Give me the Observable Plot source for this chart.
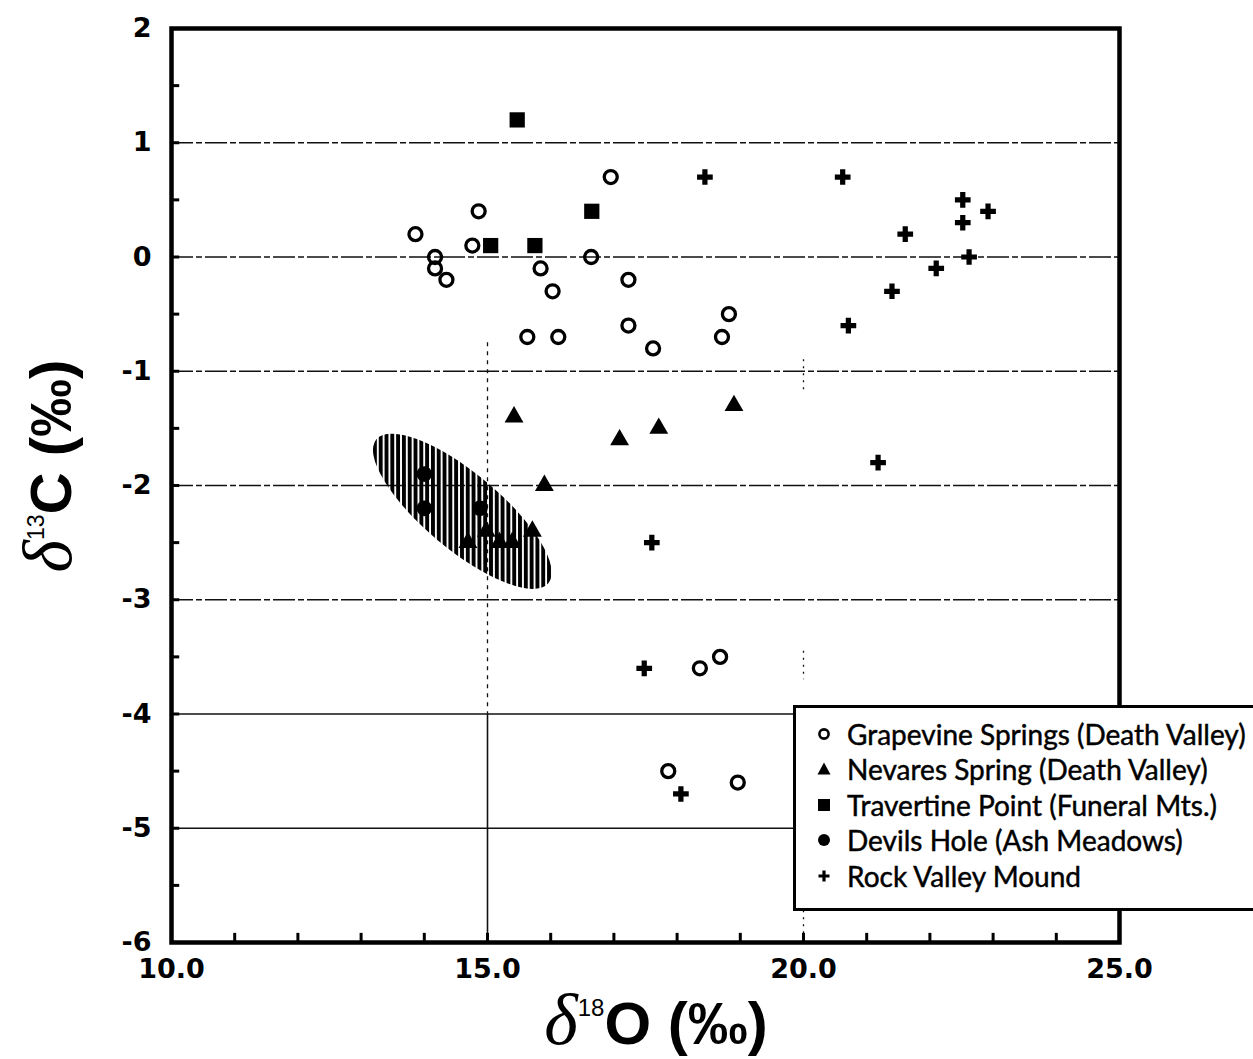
<!DOCTYPE html>
<html>
<head>
<meta charset="utf-8">
<script src="https://cdn.jsdelivr.net/npm/d3@7"></script>
<script src="https://cdn.jsdelivr.net/npm/@observablehq/plot@0.6"></script>
<style>
  html, body { margin: 0; padding: 0; background: #fff; overflow: hidden; }
  #wrap { position: relative; width: 1253px; height: 1059px; overflow: hidden; }
  #wrap svg { position: absolute; left: 0; top: 0; }
  .title { position: absolute; white-space: nowrap; color: #000;
           font-family: "Liberation Sans", Arial, sans-serif; font-weight: bold; line-height: 1; }
  .title .delta { font-family: "Liberation Serif", "DejaVu Serif", serif; font-style: italic;
                  font-weight: normal; font-size: 1.2em; }
  .title .sup { font-size: 0.4em; position: relative; top: -1.15em; font-weight: normal; }
  #ytitle { left: 48px; top: 466px; font-size: 58px; transform: translate(-50%, -50%) rotate(-90deg); }
  #xtitle { left: 656px; top: 1020px; font-size: 60px; transform: translate(-50%, -50%); }
  #legend { position: absolute; left: 793px; top: 705px; width: 520px; height: 206px;
            border: 3.5px solid #000; background: #fff; box-sizing: border-box;
            font-family: Lato, "Open Sans", sans-serif; font-size: 28px; color: #000;
            -webkit-text-stroke: 0.45px #000; padding-top: 8px; }
  #legend .row { height: 35.5px; display: flex; align-items: center; }
  #legend svg { position: static; width: 20px; height: 20px; margin-left: 18px; margin-right: 13px; flex: none; }
</style>
</head>
<body>
<div id="wrap"></div>
<script>
// δ18O (x) and δ13C (y), per mil, for each sampled site
const grapevine = [
  [16.95, 0.7], [14.86, 0.4], [13.86, 0.2], [14.76, 0.1], [14.17, 0.0], [14.17, -0.1],
  [14.35, -0.2], [16.64, 0.0], [15.84, -0.1], [16.03, -0.3], [17.23, -0.2], [17.23, -0.6],
  [15.63, -0.7], [16.12, -0.7], [17.62, -0.8], [18.82, -0.5], [18.71, -0.7],
  [18.36, -3.6], [18.68, -3.5], [17.86, -4.5], [18.96, -4.6]
];
const nevares = [
  [15.42, -1.4], [17.09, -1.6], [17.71, -1.5], [18.9, -1.3], [15.9, -2.0],
  [15.71, -2.4], [14.98, -2.4], [14.69, -2.5], [15.19, -2.5], [15.39, -2.5]
];
const travertine = [[15.47, 1.2], [16.65, 0.4], [15.05, 0.1], [15.75, 0.1]];
const devilsHole = [[14.0, -1.9], [14.0, -2.2], [14.88, -2.2]];
const rockValley = [
  [18.44, 0.7], [20.62, 0.7], [22.52, 0.5], [22.92, 0.4], [22.52, 0.3], [21.61, 0.2],
  [22.62, 0.0], [22.1, -0.1], [21.4, -0.3], [20.71, -0.6], [21.18, -1.8],
  [17.6, -2.5], [17.48, -3.6], [18.06, -4.7]
];

// Long axis of the hatched Devils Hole field (δ18O, δ13C at each end)
const fieldAxis = [[13.25, -1.6], [15.97, -2.86]];

// Axis ticks and labels
const xLabels = [10, 15, 20, 25];
const yLabels = [2, 1, 0, -1, -2, -3, -4, -5, -6];
const xMinorTicks = [11, 12, 13, 14, 15, 16, 17, 18, 19, 20, 21, 22, 23, 24];
const yMinorTicks = [1.5, 1, 0.5, 0, -0.5, -1, -1.5, -2, -2.5, -3, -3.5, -4, -4.5, -5, -5.5];

// Grid
const gridBroken = [1, 0, -1, -2, -3];
const gridSolid = [-4, -5];
const vGridDashed = [{x: 15, y1: -0.75, y2: -4}];
const vGridSolid = [{x: 15, y1: -4, y2: -6}];
const vGridDotted = [{x: 20, y1: -0.9, y2: -1.2}, {x: 20, y1: -3.45, y2: -3.7}, {x: 20, y1: -5.6, y2: -6}];

const series = [
  {name: "Grapevine Springs (Death Valley)", key: "grapevine"},
  {name: "Nevares Spring (Death Valley)", key: "nevares"},
  {name: "Travertine Point (Funeral Mts.)", key: "travertine"},
  {name: "Devils Hole (Ash Meadows)", key: "devils"},
  {name: "Rock Valley Mound", key: "rock"}
];

const X = d => d[0], Y = d => d[1];

// Hatched ellipse drawn through the plot's own scales
function hatchedField(index, scales) {
  const {x, y} = scales;
  const [p, q] = fieldAxis;
  const x1 = x(p[0]), y1 = y(p[1]), x2 = x(q[0]), y2 = y(q[1]);
  const cx = (x1 + x2) / 2, cy = (y1 + y2) / 2;
  const rx = Math.hypot(x2 - x1, y2 - y1) / 2;
  const angle = Math.atan2(y2 - y1, x2 - x1) * 180 / Math.PI;
  const g = d3.create("svg:g");
  const pat = g.append("defs").append("pattern")
    .attr("id", "field-hatch")
    .attr("patternUnits", "userSpaceOnUse")
    .attr("width", 5.8).attr("height", 10)
    .attr("patternTransform", "rotate(-40)");
  pat.append("rect").attr("width", 3.9).attr("height", 10).attr("fill", "#000");
  g.append("ellipse")
    .attr("cx", cx).attr("cy", cy).attr("rx", rx).attr("ry", 38)
    .attr("transform", `rotate(${angle} ${cx} ${cy})`)
    .attr("fill", "url(#field-hatch)");
  return g.node();
}

const chart = Plot.plot({
  width: 1253,
  height: 1059,
  marginLeft: 171,
  marginRight: 134,
  marginTop: 28,
  marginBottom: 117,
  x: {domain: [10, 25]},
  y: {domain: [-6, 2]},
  style: {
    fontFamily: "'DejaVu Sans', 'Liberation Sans', sans-serif",
    fontSize: "27px",
    fontWeight: "bold",
    color: "#000",
    background: "transparent",
    overflow: "visible"
  },
  marks: [
    Plot.ruleY(gridBroken, {stroke: "#111", strokeWidth: 1.5, strokeDasharray: "22,3,6,3"}),
    Plot.ruleY(gridSolid, {stroke: "#111", strokeWidth: 1.7}),
    Plot.ruleX(vGridDashed, {x: "x", y1: "y1", y2: "y2", stroke: "#111", strokeWidth: 1.3, strokeDasharray: "4,5"}),
    Plot.ruleX(vGridSolid, {x: "x", y1: "y1", y2: "y2", stroke: "#111", strokeWidth: 1.6}),
    Plot.ruleX(vGridDotted, {x: "x", y1: "y1", y2: "y2", stroke: "#111", strokeWidth: 1.3, strokeDasharray: "2,5"}),
    hatchedField,
    Plot.ruleX(xMinorTicks, {y1: -6, y2: -5.92, stroke: "#000", strokeWidth: 3}),
    Plot.ruleY(yMinorTicks, {x1: 10, x2: 10.13, stroke: "#000", strokeWidth: 3}),
    Plot.dot(grapevine, {x: X, y: Y, symbol: "circle", r: 6.5, stroke: "#000", strokeWidth: 3.3, fill: "none"}),
    Plot.dot(nevares, {x: X, y: Y, symbol: "triangle", r: 7, fill: "#000", stroke: "none"}),
    Plot.dot(travertine, {x: X, y: Y, symbol: "square", r: 8.6, fill: "#000", stroke: "none"}),
    Plot.dot(devilsHole, {x: X, y: Y, symbol: "circle", r: 7.8, fill: "#000", stroke: "none"}),
    Plot.dot(rockValley, {x: X, y: Y, symbol: "cross", r: 6.6, fill: "#000", stroke: "none"}),
    Plot.axisX({ticks: xLabels, tickSize: 0, tickPadding: 16, tickFormat: d => d.toFixed(1), label: null}),
    Plot.axisY({ticks: yLabels, tickSize: 0, tickPadding: 20, tickFormat: d => String(d), label: null}),
    Plot.frame({stroke: "#000", strokeWidth: 4.5})
  ]
});

const wrap = document.getElementById("wrap");
wrap.appendChild(chart);

// Axis titles
const yTitle = document.createElement("div");
yTitle.className = "title";
yTitle.id = "ytitle";
yTitle.innerHTML = '<span class="delta">δ</span><span class="sup">13</span>C (‰)';
wrap.appendChild(yTitle);

const xTitle = document.createElement("div");
xTitle.className = "title";
xTitle.id = "xtitle";
xTitle.innerHTML = '<span class="delta">δ</span><span class="sup">18</span>O (‰)';
wrap.appendChild(xTitle);

// Legend
const glyphs = {
  grapevine: '<circle cx="10" cy="10" r="4.6" fill="none" stroke="#000" stroke-width="2.6"/>',
  nevares: '<path d="M10 3.5 L16.5 15.5 L3.5 15.5 Z" fill="#000"/>',
  travertine: '<rect x="4" y="4" width="12" height="12" fill="#000"/>',
  devils: '<circle cx="10" cy="10" r="6" fill="#000"/>',
  rock: '<path d="M8.4 4.5 H11.6 V8.4 H15.5 V11.6 H11.6 V15.5 H8.4 V11.6 H4.5 V8.4 H8.4 Z" fill="#000"/>'
};
const legend = document.createElement("div");
legend.id = "legend";
for (const s of series) {
  const row = document.createElement("div");
  row.className = "row";
  row.innerHTML = `<svg viewBox="0 0 20 20">${glyphs[s.key]}</svg><span>${s.name}</span>`;
  legend.appendChild(row);
}
wrap.appendChild(legend);
</script>
</body>
</html>
